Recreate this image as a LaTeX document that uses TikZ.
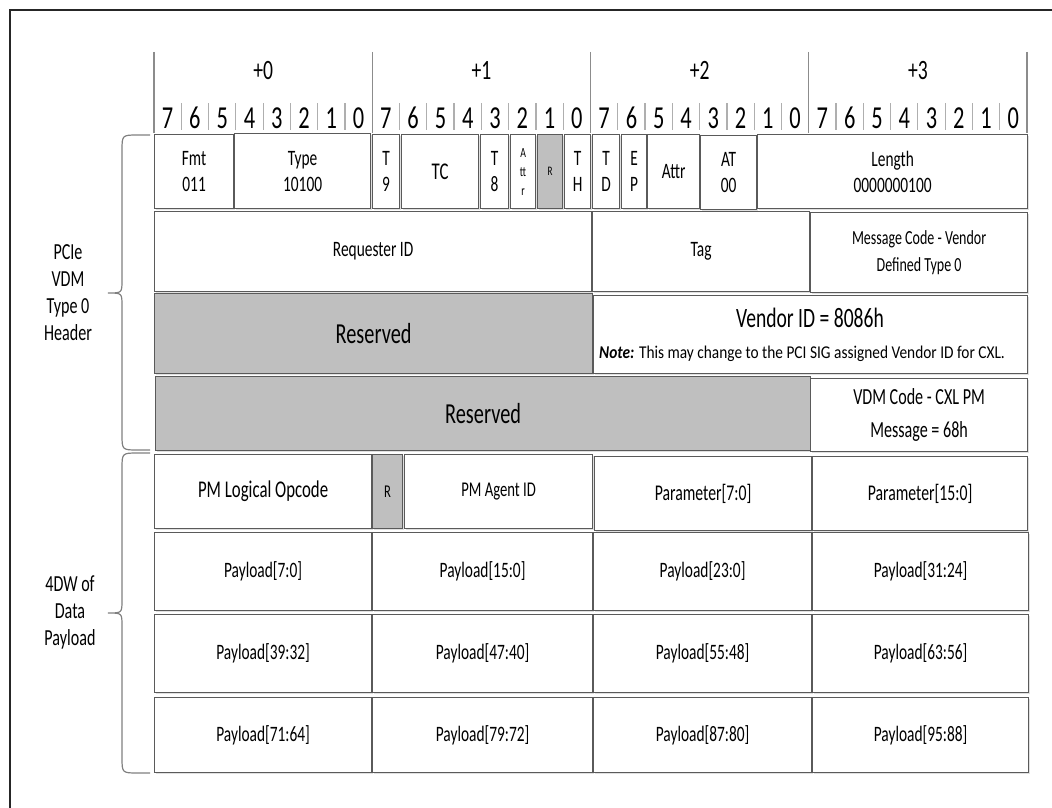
\documentclass[tikz,border=0pt]{standalone}
\usepackage{fontspec}
\setmainfont{Carlito}[FakeStretch=0.7]
\usepackage{graphicx}
\usepackage{xcolor}
\usepackage{tikz}
\usetikzlibrary{shadows}
\definecolor{boxline}{HTML}{5A5A5A}
\definecolor{rsvgray}{HTML}{BFBFBF}
\definecolor{hdrgray}{HTML}{8C8C8C}
\newcommand{\fsz}[2]{\fontsize{#1}{#2}\selectfont}
\tikzset{
	field/.style={draw=boxline, line width=1.2pt, fill=white, anchor=north west,
		inner sep=0pt, align=center, font=\fsz{22}{26},
		drop shadow={shadow xshift=1.5pt, shadow yshift=-1.5pt, fill=black!12, opacity=1}},
	rsvfield/.style={field, fill=rsvgray},
	bitnum/.style={font=\fsz{32}{32}, inner sep=0pt, anchor=base},
	bytenum/.style={font=\fsz{28}{28}, inner sep=0pt, anchor=base},
	sidelabel/.style={align=center, font=\fsz{23}{27}, inner sep=0pt},
	hdrline/.style={draw=hdrgray, line width=1.2pt},
	hdrbrace/.style={draw=black!50, line width=1.2pt},
}
\begin{document}
\begin{tikzpicture}[x=1pt,y=-1pt]
		\useasboundingbox (0,0) rectangle (1052,808);
		% outer frame
		\draw[black!85, line width=2pt] (10,808) -- (10,10) -- (1052,10);
		%
		% byte and bit numbers
		\foreach \b in {0,...,3} {
			\node[bytenum] (byte\b) at ({154+(\b+0.5)*218.25},80) {+\b};
			\foreach \i in {0,...,7} {
				\pgfmathtruncatemacro\bit{7-\i}
				\node[bitnum] (bit\b-\bit) at ({154+\b*218.25+(\i+0.5)*27.28},128) {\bit};
			}
			\foreach \i in {1,...,7}
				\draw[hdrline, draw=hdrgray!70] ({154+\b*218.25+\i*27.28},103) -- ({154+\b*218.25+\i*27.28},130);
		}
		\foreach \b in {0,...,4}
			\draw[hdrline] ({154+\b*218.25},52) -- ({154+\b*218.25},133);
		%
		% DW0
		\node[field, minimum width=79, minimum height=74] (fmt) at (154,134) {Fmt\\011};
		\node[field, minimum width=136, minimum height=75] (type) at (234,133) {Type\\10100};
		\node[field, minimum width=27, minimum height=74] (t9) at (372,134) {T\\9};
		\node[field, minimum width=77, minimum height=74, font=\fsz{24}{26}] (tc) at (401,134) {TC};
		\node[field, minimum width=28, minimum height=74] (t8) at (480,134) {T\\8};
		\node[field, minimum width=25, minimum height=74, font=\fsz{14}{19}] (attra) at (510,134) {A\\tt\\r};
		\node[rsvfield, minimum width=25, minimum height=74, font=\fsz{13}{14}] (ra) at (537,134) {R};
		\node[field, minimum width=26, minimum height=74] (th) at (564,134) {T\\H};
		\node[field, minimum width=27, minimum height=74] (td) at (592,134) {T\\D};
		\node[field, minimum width=25, minimum height=74] (ep) at (621,134) {E\\P};
		\node[field, minimum width=52, minimum height=74] (attrb) at (647,134) {Attr};
		\node[field, minimum width=56, minimum height=74] (at) at (700,135) {AT\\00};
		\node[field, minimum width=270, minimum height=74] (length) at (757,134) {Length\\0000000100};
		%
		% DW1
		\node[field, minimum width=437, minimum height=80, font=\fsz{22}{27}] (reqid) at (154,211) {Requester ID};
		\node[field, minimum width=217, minimum height=80, font=\fsz{22}{27}] (tag) at (592,211) {Tag};
		\node[field, minimum width=217, minimum height=80, font=\fsz{20}{27}] (msgcode) at (810,212) {Message Code - Vendor\\Defined Type 0};
		%
		% DW2
		\node[rsvfield, minimum width=438, minimum height=80, font=\fsz{29}{30}] (rsva) at (154,293) {Reserved};
		\node[field, minimum width=434, minimum height=78] (vendor) at (593,295) {};
		\node[font=\fsz{28}{30}, inner sep=0pt, anchor=base] (vendorid) at (810,327) {Vendor ID = 8086h};
		\node[font=\fsz{18}{18}, inner sep=0pt, anchor=base west] (note) at (599,358)
			{\scalebox{1.22}[1]{\textbf{\textit{Note:}} This may change to the PCI SIG assigned Vendor ID for CXL.}};
		%
		% DW3
		\node[rsvfield, minimum width=655, minimum height=74, font=\fsz{29}{30}] (rsvb) at (155,376) {Reserved};
		\node[field, minimum width=217, minimum height=73, font=\fsz{23}{33}] (vdmcode) at (810,378) {VDM Code - CXL PM\\Message = 68h};
		%
		% payload DW0
		\node[field, minimum width=217, minimum height=74, font=\fsz{24}{27}] (opcode) at (154,454) {PM Logical Opcode};
		\node[rsvfield, minimum width=30, minimum height=74, font=\fsz{18}{20}] (rb) at (372,454) {R};
		\node[field, minimum width=188, minimum height=74, font=\fsz{21}{27}] (agent) at (404,454) {PM Agent ID};
		\node[field, minimum width=217, minimum height=74, font=\fsz{22.5}{27}] (parlo) at (594,456) {Parameter[7:0]};
		\node[field, minimum width=215, minimum height=74, font=\fsz{22.5}{27}] (parhi) at (812,456) {Parameter[15:0]};
		%
		% payload DW1..DW3
		\foreach \r/\y/\h/\pa/\pb/\pc/\pd in {
				1/532/78/7:0/15:0/23:0/31:24,
				2/614/78/39:32/47:40/55:48/63:56,
				3/697/75/71:64/79:72/87:80/95:88} {
			\node[field, minimum width=217, minimum height=\h] (pay\r-0) at (154,\y) {Payload[\pa]};
			\node[field, minimum width=220, minimum height=\h] (pay\r-1) at (372,\y) {Payload[\pb]};
			\node[field, minimum width=218, minimum height=\h] (pay\r-2) at (593,\y) {Payload[\pc]};
			\node[field, minimum width=216, minimum height=\h] (pay\r-3) at (812,\y) {Payload[\pd]};
		}
		%
		% braces and side labels
		\draw[hdrbrace] (150,135) -- (138,135) .. controls (122,135) .. (122,151) -- (122,280)
			.. controls (122,293) .. (108,293) .. controls (122,293) .. (122,306)
			-- (122,434) .. controls (122,450) .. (138,450) -- (150,450);
		\draw[hdrbrace] (150,453) -- (138,453) .. controls (122,453) .. (122,469) -- (122,600)
			.. controls (122,613) .. (108,613) .. controls (122,613) .. (122,626)
			-- (122,757) .. controls (122,773) .. (138,773) -- (150,773);
		\node[sidelabel] (hdrlabel) at (68,293) {PCIe\\VDM\\Type 0\\Header};
		\node[sidelabel] (paylabel) at (70,612) {4DW of\\Data\\Payload};
	\end{tikzpicture}
\end{document}
